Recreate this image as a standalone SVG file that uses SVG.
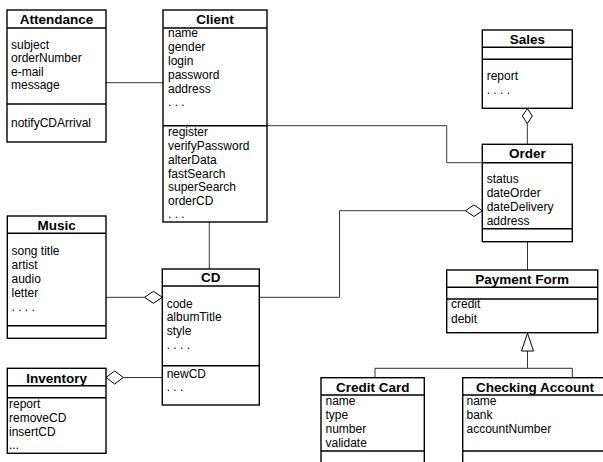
<svg xmlns="http://www.w3.org/2000/svg" width="603" height="462" viewBox="0 0 603 462">
<style>
.box{fill:#fff;stroke:#000;stroke-width:1.4}
.ln{stroke:#000;stroke-width:1.4;fill:none}
.c{stroke:#333;stroke-width:1;fill:none}
.d{fill:#fff;stroke:#000;stroke-width:1}
.h{font-family:"Liberation Sans",Arial,sans-serif;font-size:13.5px;font-weight:bold;text-anchor:middle;fill:#000}
.t{font-family:"Liberation Sans",Arial,sans-serif;font-size:12px;fill:#000}
</style>
<rect width="603" height="462" fill="#fff"/>
<g id="connectors">
<path class="c" d="M106 82.7 H163"/>
<path class="c" d="M267 125.7 H446.7 V162.7 H482.3"/>
<path class="c" d="M209.3 222 V269"/>
<path class="c" d="M527.3 123.5 V144.3"/>
<path class="d" d="M527.3 108.6 L532.3 116 L527.3 123.5 L522.3 116 Z"/>
<path class="c" d="M259.3 297.3 H339.5 V210.7 H465.5"/>
<path class="d" d="M482.3 210.7 L473.9 216.5 L465.5 210.7 L473.9 204.9 Z"/>
<path class="c" d="M527.5 241.7 V270"/>
<path class="c" d="M527.5 351 V368.3"/>
<path class="c" d="M375 377.7 V368.3 H572.3 V377.7"/>
<path class="d" d="M527.5 333.2 L533.5 351 L521.5 351 Z"/>
<path class="c" d="M106 297.3 H144.5"/>
<path class="d" d="M162.3 297.3 L153.4 303.3 L144.5 297.3 L153.4 291.3 Z"/>
<path class="c" d="M123.3 377.5 H162.3"/>
<path class="d" d="M106 377.5 L114.7 371 L123.3 377.5 L114.7 384 Z"/>
</g>
<g id="attendance">
<rect class="box" x="7" y="10" width="99" height="132"/>
<path class="ln" d="M7 28 H106 M7 104 H106"/>
<text class="h" x="56.5" y="24">Attendance</text>
<text class="t" x="11" y="48.5">subject</text>
<text class="t" x="11" y="62">orderNumber</text>
<text class="t" x="11" y="75.5">e-mail</text>
<text class="t" x="11" y="89">message</text>
<text class="t" x="11" y="127.3">notifyCDArrival</text>
</g>
<g id="client">
<rect class="box" x="163" y="10" width="104" height="212"/>
<path class="ln" d="M163 28 H267 M163 125.7 H267"/>
<text class="h" x="215" y="24">Client</text>
<text class="t" x="168" y="37">name</text>
<text class="t" x="168" y="51">gender</text>
<text class="t" x="168" y="65">login</text>
<text class="t" x="168" y="79">password</text>
<text class="t" x="168" y="93">address</text>
<text class="t" x="168" y="106">. . .</text>
<text class="t" x="168" y="135.5">register</text>
<text class="t" x="168" y="149.5">verifyPassword</text>
<text class="t" x="168" y="163.5">alterData</text>
<text class="t" x="168" y="177.5">fastSearch</text>
<text class="t" x="168" y="191.3">superSearch</text>
<text class="t" x="168" y="205.3">orderCD</text>
<text class="t" x="168" y="218">. . .</text>
</g>
<g id="sales">
<rect class="box" x="482.3" y="30" width="90" height="78.3"/>
<path class="ln" d="M482.3 47.3 H572.3 M482.3 59.3 H572.3"/>
<text class="h" x="527.3" y="44">Sales</text>
<text class="t" x="486.7" y="79.5">report</text>
<text class="t" x="486.7" y="94">. . . .</text>
</g>
<g id="order">
<rect class="box" x="482.3" y="144.3" width="90" height="97.4"/>
<path class="ln" d="M482.3 162.7 H572.3 M482.3 228.7 H572.3"/>
<text class="h" x="527.3" y="158">Order</text>
<text class="t" x="486.7" y="183.3">status</text>
<text class="t" x="486.7" y="197">dateOrder</text>
<text class="t" x="486.7" y="211">dateDelivery</text>
<text class="t" x="486.7" y="225">address</text>
</g>
<g id="payment-form">
<rect class="box" x="446.7" y="270" width="151" height="62.7"/>
<path class="ln" d="M446.7 287.3 H597.7 M446.7 299 H597.7"/>
<text class="h" x="522.2" y="284">Payment Form</text>
<text class="t" x="451" y="307.5">credit</text>
<text class="t" x="451" y="322.5">debit</text>
</g>
<g id="credit-card">
<rect class="box" x="321" y="377.7" width="103.3" height="100"/>
<path class="ln" d="M321 395 H424.3 M321 451 H424.3"/>
<text class="h" x="372.7" y="391.5">Credit Card</text>
<text class="t" x="325.5" y="405.3">name</text>
<text class="t" x="325.5" y="419.2">type</text>
<text class="t" x="325.5" y="433">number</text>
<text class="t" x="325.5" y="446.8">validate</text>
</g>
<g id="checking-account">
<rect class="box" x="462.7" y="377.7" width="144.6" height="100"/>
<path class="ln" d="M462.7 395 H607.3 M462.7 451 H607.3"/>
<text class="h" x="535" y="391.5">Checking Account</text>
<text class="t" x="466.5" y="405.3">name</text>
<text class="t" x="466.5" y="419.2">bank</text>
<text class="t" x="466.5" y="433">accountNumber</text>
</g>
<g id="music">
<rect class="box" x="7.3" y="216" width="98.7" height="122.3"/>
<path class="ln" d="M7.3 233.3 H106 M7.3 325.7 H106"/>
<text class="h" x="56.6" y="230">Music</text>
<text class="t" x="11.5" y="255.3">song title</text>
<text class="t" x="11.5" y="269">artist</text>
<text class="t" x="11.5" y="283">audio</text>
<text class="t" x="11.5" y="296.6">letter</text>
<text class="t" x="11.5" y="310.5">. . . .</text>
</g>
<g id="cd">
<rect class="box" x="162.3" y="269" width="97" height="136"/>
<path class="ln" d="M162.3 286 H259.3 M162.3 365.7 H259.3"/>
<text class="h" x="210.8" y="282.3">CD</text>
<text class="t" x="166.7" y="307.5">code</text>
<text class="t" x="166.7" y="321.3">albumTitle</text>
<text class="t" x="166.7" y="335">style</text>
<text class="t" x="166.7" y="349">. . . .</text>
<text class="t" x="166.7" y="377.5">newCD</text>
<text class="t" x="166.7" y="391">. . .</text>
</g>
<g id="inventory">
<rect class="box" x="7.3" y="368.3" width="98.7" height="85"/>
<path class="ln" d="M7.3 385.7 H106 M7.3 397.7 H106"/>
<text class="h" x="56.6" y="383">Inventory</text>
<text class="t" x="9" y="407.5">report</text>
<text class="t" x="9" y="421.7">removeCD</text>
<text class="t" x="9" y="435.7">insertCD</text>
<text class="t" x="9" y="449">...</text>
</g>
</svg>
